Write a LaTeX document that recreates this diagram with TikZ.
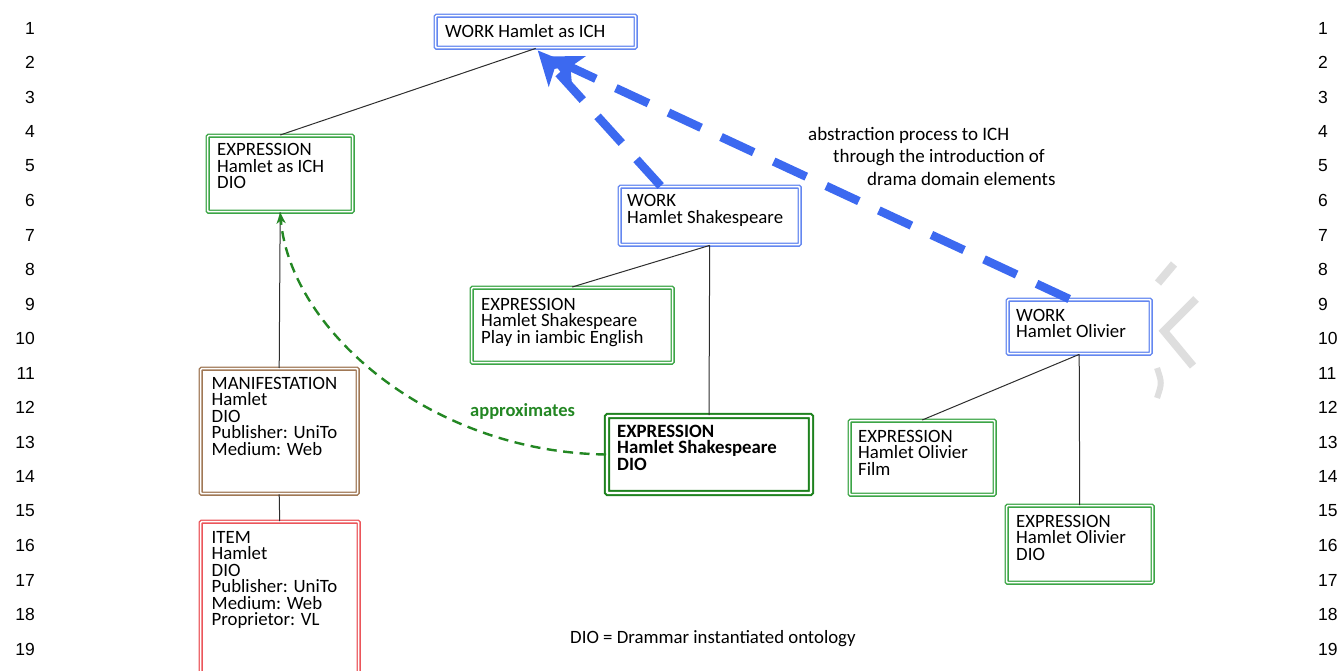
\documentclass[tikz,border=0pt]{standalone}
\usepackage{fontspec}
\setmainfont{Carlito}
\newfontfamily\numfont{Liberation Sans}
\usetikzlibrary{arrows.meta}
\definecolor{wblue}{RGB}{100,135,240}
\definecolor{ablue}{RGB}{60,105,240}
\definecolor{ggreen}{RGB}{60,165,70}
\definecolor{dgreen}{RGB}{30,130,30}
\definecolor{abgreen}{RGB}{35,135,35}
\definecolor{bbrown}{RGB}{160,120,85}
\definecolor{rred}{RGB}{235,85,90}
\definecolor{wgrey}{RGB}{222,222,222}
\definecolor{cline}{RGB}{45,45,45}
\newcommand\boxtxt[1]{\parbox[t]{230pt}{\fontsize{18.8}{16.5}\selectfont\lineskiplimit=-100pt\raggedright #1}}
\begin{document}
\begin{tikzpicture}[x=1pt,y=-1pt,
  bx/.style={rectangle, anchor=north west, inner sep=0pt, line width=1.4pt, double=white, double distance=1.5pt, rounded corners=1pt},
  wbox/.style={bx, draw=wblue},
  gbox/.style={bx, draw=ggreen},
  gbold/.style={bx, draw=dgreen, line width=2pt, double distance=2.4pt},
  brbox/.style={bx, draw=bbrown},
  rbox/.style={bx, draw=rred},
  txt/.style={anchor=base west, inner sep=0pt},
  lnum/.style={inner sep=0pt, font=\numfont\fontsize{17.5}{20}\selectfont},
  conn/.style={draw=cline, line width=1pt},
  absarr/.style={draw=ablue, line width=8.5pt, dash pattern=on 36pt off 22pt, -{Stealth[length=34pt,width=32pt,inset=9pt]}},
  approxarr/.style={draw=abgreen, line width=2.4pt, dash pattern=on 10pt off 6.5pt, -{Stealth[length=11pt,width=9pt,inset=3pt]}}
]
\path[use as bounding box] (0,0) rectangle (1342,671);
\clip (0,0) rectangle (1342,671);

% line numbers
\foreach \i in {1,...,19}{
  \node[lnum, anchor=east] (ln\i) at (35,{28+34.5*(\i-1)}) {\i};
  \node[lnum, anchor=west] (rn\i) at (1318,{28+34.5*(\i-1)}) {\i};
}

% watermark
\draw[wgrey, line width=8pt] (1174,264) -- (1158,283);
\draw[wgrey, line width=8pt] (1196,299) -- (1164,331) -- (1193,366);
\draw[wgrey, line width=6pt] (1157,368) .. controls (1162,383) .. (1157,398);

% boxes
\node[wbox, minimum width=200pt, minimum height=32pt] (wich) at (435,15) {};
\node[gbox, minimum width=145pt, minimum height=76pt] (eich) at (207,135) {};
\node[wbox, minimum width=180pt, minimum height=58pt] (wsh) at (619,186) {};
\node[gbox, minimum width=201pt, minimum height=75pt] (eplay) at (471,287) {};
\node[wbox, minimum width=143pt, minimum height=54pt] (wol) at (1007,299) {};
\node[brbox, minimum width=157pt, minimum height=125pt] (manif) at (200,368) {};
\node[rbox, minimum width=158pt, minimum height=170pt] (item) at (200,521) {};
\node[gbold, minimum width=204pt, minimum height=77pt] (ebold) at (606,415) {};
\node[gbox, minimum width=145pt, minimum height=74pt] (efilm) at (849,420) {};
\node[gbox, minimum width=146pt, minimum height=77pt] (eoldio) at (1006,505) {};

% texts
\node[txt] (twich) at (445,37.5) {\boxtxt{WORK Hamlet as ICH}};
\node[txt] (teich) at (217,156) {\boxtxt{EXPRESSION\\Hamlet as ICH\\DIO}};
\node[txt] (twsh) at (627,207) {\boxtxt{WORK\\Hamlet Shakespeare}};
\node[txt] (teplay) at (481,310) {\boxtxt{EXPRESSION\\Hamlet Shakespeare\\Play in iambic English}};
\node[txt] (twol) at (1016,321) {\boxtxt{WORK\\Hamlet Olivier}};
\node[txt] (tmanif) at (211.5,389) {\boxtxt{MANIFESTATION\\Hamlet\\DIO\\Publisher: UniTo\\Medium: Web}};
\node[txt] (titem) at (211.5,543) {\boxtxt{ITEM\\Hamlet\\DIO\\Publisher: UniTo\\Medium: Web\\Proprietor: VL}};
\node[txt] (tebold) at (617,437) {\boxtxt{\bfseries EXPRESSION\\Hamlet Shakespeare\\DIO}};
\node[txt] (tefilm) at (858,442) {\boxtxt{EXPRESSION\\Hamlet Olivier\\Film}};
\node[txt] (teoldio) at (1016,527) {\boxtxt{EXPRESSION\\Hamlet Olivier\\DIO}};

% connectors
\draw[conn] (wich.south) -- (eich.north);
\draw[conn] (manif.north) -- (eich.south);
\draw[conn] (manif.south) -- (item.north);
\draw[conn] (wsh.south) -- (eplay.north);
\draw[conn] (wsh.south) -- (ebold.north);
\draw[conn] (wol.south) -- (efilm.north);
\draw[conn] (wol.south) -- (eoldio.north);

% abstraction arrows
\draw[absarr] ([xshift=-49pt]wsh.north) -- ([xshift=2pt,yshift=-2pt]wich.south);
\draw[absarr] ([xshift=-10pt]wol.north) -- ([xshift=12pt,yshift=-8pt]wich.south);

% approximates
\draw[approxarr] (ebold.west) .. controls (430,452) and (290,330) .. (eich.south);
\node[txt, text=abgreen, font=\bfseries\fontsize{18.5}{20}\selectfont] (lapprox) at (470,416) {approximates};

% abstraction label
\node[txt] (labs) at (808,140.5) {\parbox[t]{400pt}{\fontsize{19}{22.5}\selectfont\lineskiplimit=-100pt
abstraction process to ICH\\
\hspace*{25pt}through the introduction of\\
\hspace*{59pt}drama domain elements}};

% legend
\node[txt, font=\fontsize{18.8}{20}\selectfont] (legend) at (570,643) {DIO = Drammar instantiated ontology};
\end{tikzpicture}
\end{document}
